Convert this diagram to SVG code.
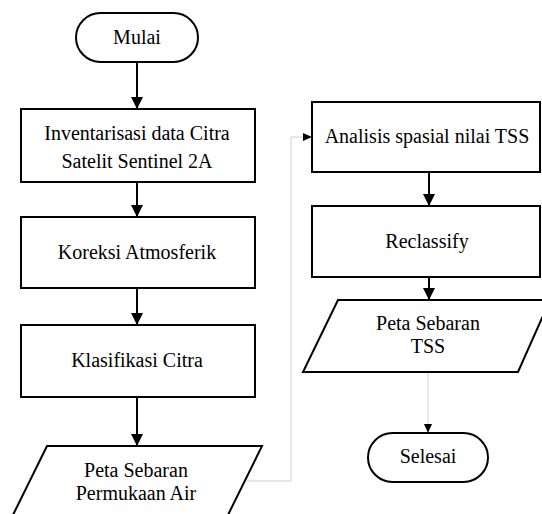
<svg xmlns="http://www.w3.org/2000/svg" width="542" height="514" viewBox="0 0 542 514">
<style>
.s{fill:#fff;stroke:#000;stroke-width:2}
text{font-family:'Liberation Serif','Times New Roman',Times,serif;font-size:20px;fill:#000;text-anchor:middle}
.c{fill:none;stroke:#000;stroke-width:2}
.g{fill:none;stroke:#d0d0d0;stroke-width:1}
</style>
<defs>
<marker id="a" markerUnits="userSpaceOnUse" markerWidth="12" markerHeight="12" refX="12" refY="6" orient="auto">
<path d="M0,0L12,6L0,12Z" fill="#000"/>
</marker>
<marker id="b" markerUnits="userSpaceOnUse" markerWidth="9" markerHeight="8" refX="9" refY="4" orient="auto">
<path d="M0,0L9,4L0,8Z" fill="#000"/>
</marker>
</defs>
<rect width="542" height="514" fill="#fff"/>
<g id="connectors">
<line class="c" x1="137" y1="62" x2="137" y2="109" marker-end="url(#a)"/>
<line class="c" x1="137" y1="182" x2="137" y2="217" marker-end="url(#a)"/>
<line class="c" x1="137" y1="288" x2="137" y2="325" marker-end="url(#a)"/>
<line class="c" x1="137" y1="397" x2="137" y2="446" marker-end="url(#a)"/>
<polyline class="g" points="247,481 291,481 291,137 312,137" marker-end="url(#b)"/>
<line class="c" x1="429" y1="172" x2="429" y2="206" marker-end="url(#a)"/>
<line class="c" x1="429" y1="277" x2="429" y2="300" marker-end="url(#a)"/>
<line class="g" x1="428" y1="372" x2="428" y2="433" marker-end="url(#b)"/>
</g>
<g id="mulai">
<rect class="s" x="76" y="13" width="122" height="49" rx="24.5"/>
<text x="137" y="44">Mulai</text>
</g>
<g id="inventarisasi">
<rect class="s" x="21" y="109" width="234" height="73"/>
<text x="137" y="140">Inventarisasi data Citra</text>
<text x="137" y="168">Satelit Sentinel 2A</text>
</g>
<g id="koreksi">
<rect class="s" x="21" y="217" width="234" height="71"/>
<text x="137" y="259">Koreksi Atmosferik</text>
</g>
<g id="klasifikasi">
<rect class="s" x="21" y="325" width="234" height="72"/>
<text x="137" y="367">Klasifikasi Citra</text>
</g>
<g id="peta-air">
<polygon class="s" points="47,446 262,446 225,521 10,521"/>
<text x="136" y="477">Peta Sebaran</text>
<text x="136" y="500">Permukaan Air</text>
</g>
<g id="analisis">
<rect class="s" x="312" y="102" width="228" height="70"/>
<text x="427" y="143">Analisis spasial nilai TSS</text>
</g>
<g id="reclassify">
<rect class="s" x="312" y="206" width="228" height="71"/>
<text x="427" y="248">Reclassify</text>
</g>
<g id="peta-tss">
<polygon class="s" points="338,300 550,300 518,372 303,372"/>
<text x="428" y="330">Peta Sebaran</text>
<text x="428" y="353">TSS</text>
</g>
<g id="selesai">
<rect class="s" x="368" y="433" width="120" height="49" rx="24.5"/>
<text x="428" y="463">Selesai</text>
</g>
</svg>
